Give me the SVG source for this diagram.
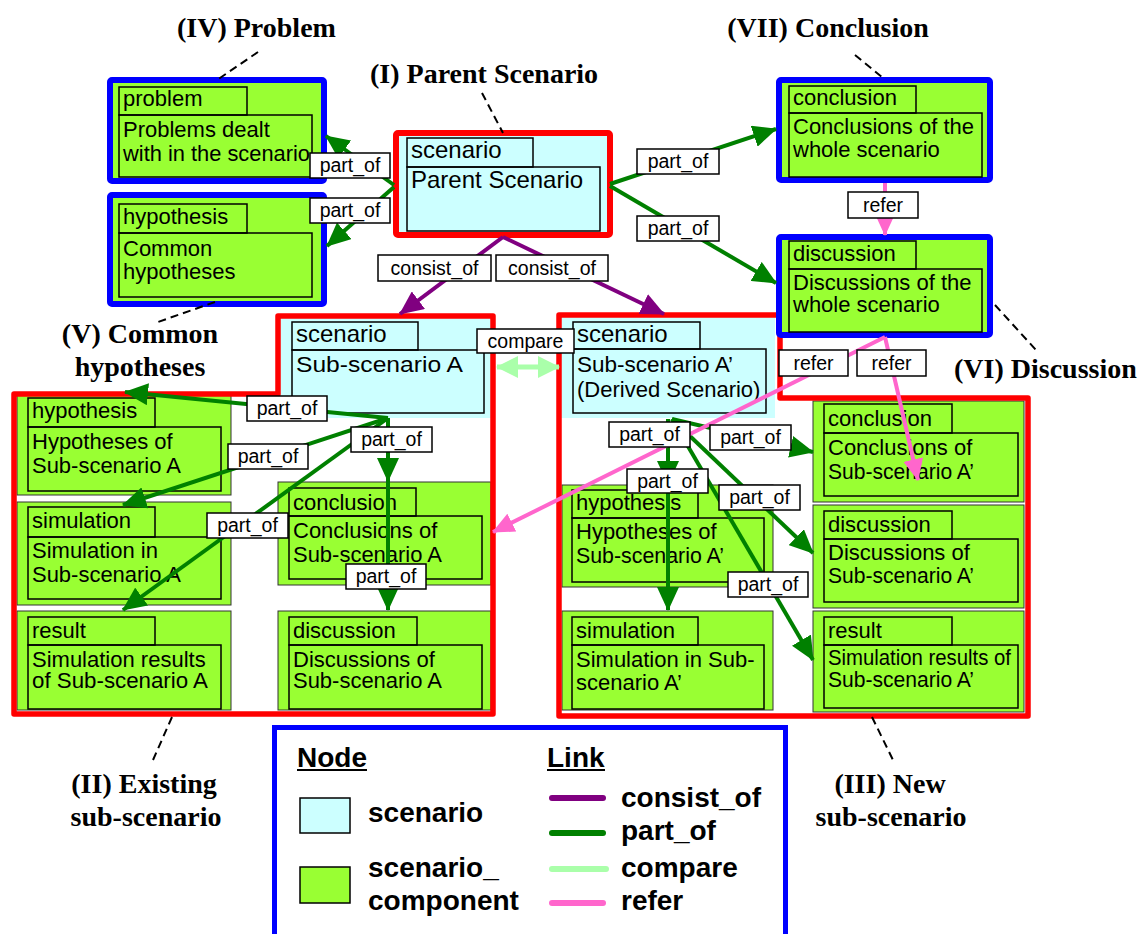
<svg xmlns="http://www.w3.org/2000/svg" width="1141" height="934" viewBox="0 0 1141 934">
<style>
.comp{fill:#99ff33;stroke:#333;stroke-width:1}
.blue{fill:#99ff33;stroke:#0000ff;stroke-width:6}
.scen{fill:#ccffff;stroke:none}
.inner{fill:none;stroke:#000;stroke-width:1.5}
.red{fill:none;stroke:#ff0000;stroke-width:5.5;stroke-linejoin:round}
text{font-family:"Liberation Sans",Arial,sans-serif;fill:#000}
.t{font-size:22px}
.ts{font-size:24px}
.title{font-family:"Liberation Serif","Times New Roman",serif;font-weight:bold;font-size:28px}
.dash{stroke:#000;stroke-width:2;stroke-dasharray:8 5;fill:none}
.pg{stroke:#008000;stroke-width:4;fill:none;marker-end:url(#mg)}
.pp{stroke:#800080;stroke-width:4;fill:none;marker-end:url(#mp)}
.pk{stroke:#ff66cc;stroke-width:4;fill:none;marker-end:url(#mk)}
.cmp{stroke:#aaffaa;stroke-width:5;fill:none;marker-end:url(#mc);marker-start:url(#mc)}
.lbl rect{fill:#fff;stroke:#000;stroke-width:1.5}
.lbl text{font-size:19.5px;text-anchor:middle}
.leg{font-weight:bold;font-size:28px}
.legl{stroke-width:6;stroke-linecap:round}
</style>
<defs>
<marker id="mg" viewBox="0 0 24 22" markerWidth="24" markerHeight="22" refX="23" refY="11" orient="auto" markerUnits="userSpaceOnUse"><path d="M0,0L24,11L0,22z" fill="#008000"/></marker>
<marker id="mp" viewBox="0 0 24 22" markerWidth="24" markerHeight="22" refX="23" refY="11" orient="auto" markerUnits="userSpaceOnUse"><path d="M0,0L24,11L0,22z" fill="#800080"/></marker>
<marker id="mk" viewBox="0 0 22 20" markerWidth="22" markerHeight="20" refX="21" refY="10" orient="auto" markerUnits="userSpaceOnUse"><path d="M0,0L22,10L0,20z" fill="#ff66cc"/></marker>
<marker id="mc" viewBox="0 0 22 22" markerWidth="22" markerHeight="22" refX="21" refY="11" orient="auto-start-reverse" markerUnits="userSpaceOnUse"><path d="M0,0L22,11L0,22z" fill="#aaffaa"/></marker>
</defs>
<rect width="1141" height="934" fill="#fff"/>

<!-- Sub-scenario A (cyan) -->
<g id="subA">
<rect class="scen" x="278" y="316" width="215" height="102"/>
<rect class="inner" x="292" y="322" width="126" height="28"/>
<rect class="inner" x="292" y="350" width="192" height="63"/>
<text class="ts" x="296" y="342">scenario</text>
<text class="t" x="296" y="372" font-size="23" textLength="167" lengthAdjust="spacingAndGlyphs">Sub-scenario A</text>
</g>
<g id="hypA">
<rect class="comp" x="17" y="395" width="214" height="100"/>
<rect class="inner" x="28" y="398" width="127" height="29"/>
<rect class="inner" x="28" y="427" width="193" height="64"/>
<text class="t" x="32" y="418">hypothesis</text>
<text class="t" x="32" y="449">Hypotheses of</text>
<text class="t" x="32" y="473" textLength="149" lengthAdjust="spacingAndGlyphs">Sub-scenario A</text>
</g>
<g id="simA">
<rect class="comp" x="17" y="502" width="214" height="103"/>
<rect class="inner" x="28" y="507" width="127" height="30"/>
<rect class="inner" x="28" y="537" width="193" height="62"/>
<text class="t" x="32" y="528">simulation</text>
<text class="t" x="32" y="558">Simulation in</text>
<text class="t" x="32" y="582" textLength="149" lengthAdjust="spacingAndGlyphs">Sub-scenario A</text>
</g>
<g id="resA">
<rect class="comp" x="17" y="611" width="214" height="99"/>
<rect class="inner" x="28" y="617" width="127" height="28"/>
<rect class="inner" x="28" y="645" width="193" height="64"/>
<text class="t" x="32" y="638">result</text>
<text class="t" x="32" y="667">Simulation results</text>
<text class="t" x="32" y="688" textLength="176" lengthAdjust="spacingAndGlyphs">of Sub-scenario A</text>
</g>
<g id="conA">
<rect class="comp" x="278" y="482" width="213" height="103"/>
<rect class="inner" x="289" y="488" width="127" height="28"/>
<rect class="inner" x="289" y="516" width="193" height="63"/>
<text class="t" x="293" y="510">conclusion</text>
<text class="t" x="293" y="538">Conclusions of</text>
<text class="t" x="293" y="562" textLength="149" lengthAdjust="spacingAndGlyphs">Sub-scenario A</text>
</g>
<g id="disA">
<rect class="comp" x="278" y="611" width="213" height="99"/>
<rect class="inner" x="289" y="617" width="128" height="28"/>
<rect class="inner" x="289" y="645" width="193" height="64"/>
<text class="t" x="293" y="638">discussion</text>
<text class="t" x="293" y="667">Discussions of</text>
<text class="t" x="293" y="688" textLength="149" lengthAdjust="spacingAndGlyphs">Sub-scenario A</text>
</g>

<!-- Sub-scenario A' -->
<g id="subA2">
<rect class="scen" x="559" y="315" width="216" height="103"/>
<rect class="inner" x="573" y="322" width="127" height="27"/>
<rect class="inner" x="573" y="349" width="193" height="64"/>
<text class="ts" x="577" y="342">scenario</text>
<text class="t" x="577" y="372" font-size="21" textLength="156" lengthAdjust="spacingAndGlyphs">Sub-scenario A’</text>
<text class="t" x="577" y="397" font-size="21">(Derived Scenario)</text>
</g>
<g id="hypA2">
<rect class="comp" x="562" y="485" width="211" height="102"/>
<rect class="inner" x="572" y="490" width="126" height="28"/>
<rect class="inner" x="572" y="518" width="192" height="64"/>
<text class="t" x="576" y="510">hypothesis</text>
<text class="t" x="576" y="539">Hypotheses of</text>
<text class="t" x="576" y="563" textLength="148" lengthAdjust="spacingAndGlyphs">Sub-scenario A’</text>
</g>
<g id="simA2">
<rect class="comp" x="562" y="611" width="211" height="99"/>
<rect class="inner" x="572" y="617" width="126" height="28"/>
<rect class="inner" x="572" y="645" width="192" height="64"/>
<text class="t" x="576" y="638">simulation</text>
<text class="t" x="576" y="667">Simulation in Sub-</text>
<text class="t" x="576" y="690">scenario A’</text>
</g>
<g id="conA2">
<rect class="comp" x="813" y="401" width="211" height="101"/>
<rect class="inner" x="824" y="404" width="128" height="29"/>
<rect class="inner" x="824" y="433" width="194" height="63"/>
<text class="t" x="828" y="426">conclusion</text>
<text class="t" x="828" y="455">Conclusions of</text>
<text class="t" x="828" y="479" textLength="146" lengthAdjust="spacingAndGlyphs">Sub-scenario A’</text>
</g>
<g id="disA2">
<rect class="comp" x="813" y="505" width="211" height="103"/>
<rect class="inner" x="824" y="511" width="128" height="28"/>
<rect class="inner" x="824" y="539" width="194" height="63"/>
<text class="t" x="828" y="532">discussion</text>
<text class="t" x="828" y="560">Discussions of</text>
<text class="t" x="828" y="583" textLength="146" lengthAdjust="spacingAndGlyphs">Sub-scenario A’</text>
</g>
<g id="resA2">
<rect class="comp" x="813" y="611" width="211" height="101"/>
<rect class="inner" x="824" y="617" width="128" height="28"/>
<rect class="inner" x="824" y="645" width="194" height="63"/>
<text class="t" x="828" y="638">result</text>
<text class="t" x="828" y="665" textLength="183" lengthAdjust="spacingAndGlyphs">Simulation results of</text>
<text class="t" x="828" y="687" textLength="146" lengthAdjust="spacingAndGlyphs">Sub-scenario A’</text>
</g>

<!-- Groups II and III -->
<g id="groupII"><polygon class="red" points="14,394 278,394 278,316 493,316 493,714 14,714"/></g>
<g id="groupIII"><polygon class="red" points="559,315 780,315 780,398 1028,398 1028,716 559,716"/></g>

<!-- Parent scenario -->
<g id="parent">
<rect x="396" y="133" width="214" height="102" rx="2" fill="#ccffff" stroke="#ff0000" stroke-width="6"/>
<rect class="inner" x="407" y="138" width="126" height="29"/>
<rect class="inner" x="407" y="167" width="193" height="64"/>
<text class="ts" x="411" y="158">scenario</text>
<text class="ts" x="411" y="188">Parent Scenario</text>
</g>
<g id="problem">
<rect class="blue" x="110" y="80" width="214" height="101" rx="2"/>
<rect class="inner" x="119" y="87" width="128" height="28"/>
<rect class="inner" x="119" y="115" width="193" height="62"/>
<text class="t" x="123" y="106">problem</text>
<text class="t" x="123" y="137">Problems dealt</text>
<text class="t" x="123" y="161" textLength="187" lengthAdjust="spacingAndGlyphs">with in the scenario</text>
</g>
<g id="commonHyp">
<rect class="blue" x="110" y="195" width="214" height="109" rx="2"/>
<rect class="inner" x="119" y="204" width="128" height="29"/>
<rect class="inner" x="119" y="233" width="193" height="64"/>
<text class="t" x="123" y="224">hypothesis</text>
<text class="t" x="123" y="256">Common</text>
<text class="t" x="123" y="279">hypotheses</text>
</g>
<g id="conclusionWhole">
<rect class="blue" x="779" y="80" width="211" height="100" rx="2"/>
<rect class="inner" x="789" y="86" width="127" height="27"/>
<rect class="inner" x="789" y="113" width="193" height="64"/>
<text class="t" x="793" y="105">conclusion</text>
<text class="t" x="793" y="134">Conclusions of the</text>
<text class="t" x="793" y="157">whole scenario</text>
</g>
<g id="discussionWhole">
<rect class="blue" x="779" y="237" width="211" height="98" rx="2"/>
<rect class="inner" x="789" y="241" width="127" height="28"/>
<rect class="inner" x="789" y="269" width="193" height="63"/>
<text class="t" x="793" y="261">discussion</text>
<text class="t" x="793" y="290">Discussions of the</text>
<text class="t" x="793" y="312">whole scenario</text>
</g>

<!-- Connectors -->
<g id="connectors">
<line class="pg" x1="394" y1="185" x2="326" y2="136"/>
<line class="pg" x1="394" y1="187" x2="327" y2="246"/>
<line class="pg" x1="610" y1="184" x2="776" y2="129"/>
<line class="pg" x1="610" y1="186" x2="776" y2="283"/>
<line class="pg" x1="388" y1="418" x2="125" y2="392"/>
<line class="pg" x1="388" y1="418" x2="123" y2="505"/>
<line class="pg" x1="388" y1="418" x2="123" y2="610"/>
<line class="pg" x1="388" y1="418" x2="388" y2="481"/>
<line class="pg" x1="388" y1="418" x2="388" y2="610"/>
<line class="pg" x1="668" y1="419" x2="668" y2="484"/>
<line class="pg" x1="668" y1="419" x2="668" y2="610"/>
<line class="pg" x1="672" y1="419" x2="813" y2="452"/>
<line class="pg" x1="672" y1="419" x2="813" y2="553"/>
<line class="pg" x1="672" y1="419" x2="813" y2="660"/>
<line class="pp" x1="503" y1="237" x2="400" y2="314"/>
<line class="pp" x1="503" y1="237" x2="664" y2="314"/>
<line class="pk" x1="885" y1="183" x2="885" y2="235"/>
<line class="pk" x1="885" y1="337" x2="493" y2="532"/>
<line class="pk" x1="885" y1="337" x2="918" y2="480"/>
<line class="cmp" x1="497" y1="367" x2="559" y2="367"/>
<g class="lbl">
<rect x="310" y="153" width="80" height="25"/><text x="350" y="172">part_of</text>
<rect x="310" y="198" width="80" height="25"/><text x="350" y="217">part_of</text>
<rect x="637" y="149" width="82" height="25"/><text x="678" y="168">part_of</text>
<rect x="637" y="216" width="82" height="25"/><text x="678" y="235">part_of</text>
<rect x="378" y="255" width="113" height="26"/><text x="434.5" y="275">consist_of</text>
<rect x="496" y="255" width="112" height="26"/><text x="552" y="275">consist_of</text>
<rect x="848" y="192" width="70" height="26"/><text x="883" y="212">refer</text>
<rect x="477" y="329" width="97" height="24"/><text x="525.5" y="348">compare</text>
<rect x="779" y="350" width="69" height="26"/><text x="813.5" y="370">refer</text>
<rect x="857" y="350" width="69" height="26"/><text x="891.5" y="370">refer</text>
<rect x="247" y="396" width="80" height="25"/><text x="287" y="415">part_of</text>
<rect x="228" y="444" width="80" height="25"/><text x="268" y="463">part_of</text>
<rect x="207" y="513" width="81" height="25"/><text x="247.5" y="532">part_of</text>
<rect x="351" y="427" width="81" height="25"/><text x="391.5" y="446">part_of</text>
<rect x="346" y="564" width="80" height="25"/><text x="386" y="583">part_of</text>
<rect x="609" y="422" width="81" height="25"/><text x="649.5" y="441">part_of</text>
<rect x="710" y="425" width="81" height="25"/><text x="750.5" y="444">part_of</text>
<rect x="627" y="469" width="81" height="24"/><text x="667.5" y="488">part_of</text>
<rect x="719" y="485" width="81" height="25"/><text x="759.5" y="504">part_of</text>
<rect x="728" y="572" width="80" height="25"/><text x="768" y="591">part_of</text>
</g>
</g>

<!-- Annotations -->
<g id="annotations">
<line class="dash" x1="258" y1="52" x2="217" y2="80"/>
<line class="dash" x1="482" y1="93" x2="503" y2="133"/>
<line class="dash" x1="855" y1="55" x2="883" y2="78"/>
<line class="dash" x1="215" y1="302" x2="158" y2="322"/>
<line class="dash" x1="995" y1="305" x2="1036" y2="350"/>
<line class="dash" x1="172" y1="717" x2="153" y2="760"/>
<line class="dash" x1="872" y1="717" x2="893" y2="760"/>
<text class="title" x="177" y="37">(IV) Problem</text>
<text class="title" x="370" y="83">(I) Parent Scenario</text>
<text class="title" x="828" y="37" text-anchor="middle">(VII) Conclusion</text>
<text class="title" x="140" y="343" text-anchor="middle">(V) Common</text>
<text class="title" x="140" y="376" text-anchor="middle">hypotheses</text>
<text class="title" x="954" y="378">(VI) Discussion</text>
<text class="title" x="144" y="793" text-anchor="middle">(II) Existing</text>
<text class="title" x="146" y="826" text-anchor="middle">sub-scenario</text>
<text class="title" x="890" y="793" text-anchor="middle">(III) New</text>
<text class="title" x="891" y="826" text-anchor="middle">sub-scenario</text>
</g>

<!-- Legend -->
<g id="legend">
<rect x="274.5" y="727.5" width="511" height="220" fill="#fff" stroke="#0000ff" stroke-width="5"/>
<text class="leg" x="297" y="767" font-size="26">Node</text>
<line x1="297" y1="770" x2="367" y2="770" stroke="#000" stroke-width="2"/>
<text class="leg" x="547" y="767" font-size="26">Link</text>
<line x1="547" y1="770" x2="605" y2="770" stroke="#000" stroke-width="2"/>
<rect x="300" y="798" width="50" height="35" fill="#ccffff" stroke="#000" stroke-width="1.5"/>
<text class="leg" x="368" y="822">scenario</text>
<rect x="300" y="867" width="50" height="36" fill="#99ff33" stroke="#000" stroke-width="1.5"/>
<text class="leg" x="368" y="877">scenario_</text>
<text class="leg" x="368" y="910">component</text>
<line class="legl" x1="552" y1="798" x2="603" y2="798" stroke="#800080"/>
<line class="legl" x1="552" y1="833" x2="603" y2="833" stroke="#008000"/>
<line class="legl" x1="552" y1="869" x2="606" y2="869" stroke="#aaffaa"/>
<line class="legl" x1="552" y1="903" x2="603" y2="903" stroke="#ff66cc"/>
<text class="leg" x="621" y="807">consist_of</text>
<text class="leg" x="621" y="840">part_of</text>
<text class="leg" x="621" y="877">compare</text>
<text class="leg" x="621" y="910">refer</text>
</g>
</svg>
